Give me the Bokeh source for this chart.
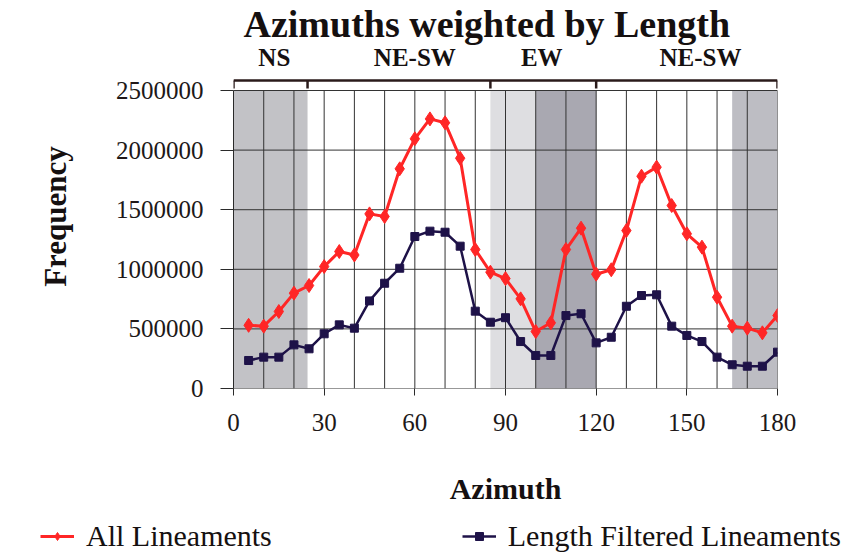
from bokeh.plotting import figure
from bokeh.layouts import column
from bokeh.models import Range1d, FixedTicker, Legend, LegendItem
from bokeh.core.properties import value
from bokeh.embed import file_html
from bokeh.resources import INLINE

# ---------------- data ----------------
azimuth = [5, 10, 15, 20, 25, 30, 35, 40, 45, 50, 55, 60, 65, 70, 75, 80, 85, 90,
           95, 100, 105, 110, 115, 120, 125, 130, 135, 140, 145, 150, 155, 160, 165, 170, 175, 180]
all_lineaments = [530000, 523000, 646000, 800000, 864000, 1023000, 1149000, 1120000, 1465000,
                  1443000, 1843000, 2095000, 2262000, 2229000, 1932000, 1166000, 976000, 922000,
                  752000, 478000, 551000, 1166000, 1345000, 959000, 996000, 1325000, 1781000,
                  1857000, 1535000, 1298000, 1186000, 766000, 523000, 506000, 467000, 612000]
length_filtered = [235000, 263000, 263000, 366000, 333000, 459000, 534000, 506000, 735000,
                   883000, 1009000, 1275000, 1320000, 1311000, 1194000, 649000, 556000, 594000,
                   394000, 277000, 277000, 612000, 627000, 383000, 430000, 690000, 780000,
                   786000, 523000, 445000, 394000, 263000, 199000, 187000, 187000, 305000]

x_ticks = [0, 30, 60, 90, 120, 150, 180]
x_grid = [0, 10, 20, 30, 40, 50, 60, 70, 80, 90, 100, 110, 120, 130, 140, 150, 160, 170, 180]
y_ticks = [0, 500000, 1000000, 1500000, 2000000, 2500000]
y_tick_labels = ["0", "500000", "1000000", "1500000", "2000000", "2500000"]

# shaded orientation bands
shade_left = [0, 85, 100, 165]
shade_right = [24.5, 100, 120, 180]
shade_colors = ["#c2c2c6", "#dedee1", "#a9a8b1", "#bdbdc3"]

# orientation classes (bracket above plot)
band_edges = [0, 24.5, 85, 120, 180]
band_names = ["NS", "NE-SW", "EW", "NE-SW"]
band_label_x = [13.5, 60, 102, 154.5]

series_names = ["All Lineaments", "Length Filtered Lineaments"]

FONT = "Liberation Serif"
RED = "#ff2626"
NAVY = "#1e1248"
Y_MAX = 2886000
Y_TOP = y_ticks[-1]
BRACKET_Y = 2584000
BRACKET_TICK_Y = 2517000
BAND_LABEL_Y = 2777000

p = figure(width=866, height=515, output_backend="svg", toolbar_location=None,
           x_range=Range1d(x_ticks[0], x_ticks[-1]), y_range=Range1d(0, Y_MAX),
           min_border_left=233, min_border_right=89, min_border_top=44, min_border_bottom=127,
           title="Azimuths weighted by Length")
p.outline_line_color = None
p.background_fill_color = "white"
p.border_fill_color = "white"
p.xgrid.visible = False
p.ygrid.visible = False

p.title.text_font = FONT
p.title.text_font_size = "38px"
p.title.text_font_style = "bold"
p.title.text_color = "#151010"
p.title.align = "left"
p.title.offset = 10
p.title.standoff = 0

# shading
p.quad(left=shade_left, right=shade_right, bottom=0, top=Y_TOP,
       fill_color=shade_colors, line_color=None)

# grid lines
p.segment(x0=x_grid, y0=0, x1=x_grid, y1=Y_TOP, line_color="#333333", line_width=1)
p.segment(x0=x_ticks[0], y0=y_ticks, x1=x_ticks[-1], y1=y_ticks, line_color="#333333", line_width=1)

# bracket
p.segment(x0=band_edges[0], y0=BRACKET_Y, x1=band_edges[-1], y1=BRACKET_Y,
          line_color="#2a1a1a", line_width=2.5)
p.segment(x0=band_edges, y0=BRACKET_TICK_Y, x1=band_edges, y1=BRACKET_Y,
          line_color="#2a1a1a", line_width=2.5)
p.text(x=band_label_x, y=BAND_LABEL_Y, text=band_names, text_font=value(FONT),
       text_font_style="bold", text_font_size="25px", text_align="center",
       text_baseline="middle", text_color="#151010")

# series
p.line(azimuth, all_lineaments, line_color=RED, line_width=3)
p.scatter(azimuth, all_lineaments, marker="diamond", size=14, fill_color=RED, line_color=RED)
p.line(azimuth, length_filtered, line_color=NAVY, line_width=2.5)
p.scatter(azimuth, length_filtered, marker="square", size=8, fill_color=NAVY, line_color=NAVY)

# axes
p.xaxis.ticker = FixedTicker(ticks=x_ticks)
p.xaxis.axis_line_color = None
p.xaxis.major_tick_out = 7
p.xaxis.major_tick_in = 0
p.xaxis.minor_tick_line_color = None
p.xaxis.major_tick_line_color = "#2a2a2a"
p.xaxis.major_label_standoff = 18
p.xaxis.major_label_text_font = FONT
p.xaxis.major_label_text_font_size = "25px"
p.xaxis.major_label_text_color = "#201818"
p.xaxis.axis_label = "Azimuth"
p.xaxis.axis_label_text_font = FONT
p.xaxis.axis_label_text_font_size = "30px"
p.xaxis.axis_label_text_font_style = "bold"
p.xaxis.axis_label_text_color = "#151010"
p.xaxis.axis_label_standoff = 38

p.yaxis.ticker = FixedTicker(ticks=y_ticks)
p.yaxis.major_label_overrides = dict(zip(y_ticks, y_tick_labels))
p.yaxis.bounds = (y_ticks[0], y_ticks[-1])
p.yaxis.axis_line_color = "#2a2a2a"
p.yaxis.major_tick_out = 13
p.yaxis.major_tick_in = 0
p.yaxis.minor_tick_line_color = None
p.yaxis.major_tick_line_color = "#2a2a2a"
p.yaxis.major_label_standoff = 17
p.yaxis.major_label_text_font = FONT
p.yaxis.major_label_text_font_size = "25px"
p.yaxis.major_label_text_color = "#201818"
p.yaxis.axis_label = "Frequency"
p.yaxis.axis_label_text_font = FONT
p.yaxis.axis_label_text_font_size = "31px"
p.yaxis.axis_label_text_font_style = "bold"
p.yaxis.axis_label_text_color = "#151010"
p.yaxis.axis_label_standoff = 40

# legend strip (own small figure spanning the full width; its ranges keep the
# series themselves out of view so only the legend shows)
lg = figure(width=866, height=38, output_backend="svg", toolbar_location=None,
            x_range=Range1d(-2, -1), y_range=Range1d(-2, -1), min_border=0,
            x_axis_location=None, y_axis_location=None)
lg.frame_align = False
lg.outline_line_color = None
lg.grid.visible = False
k1 = lg.line(azimuth, all_lineaments, line_color=RED, line_width=3)
k1m = lg.scatter(azimuth, all_lineaments, marker="diamond", size=14, fill_color=RED, line_color=RED)
k2 = lg.line(azimuth, length_filtered, line_color=NAVY, line_width=2.5)
k2m = lg.scatter(azimuth, length_filtered, marker="square", size=8, fill_color=NAVY, line_color=NAVY)
legend = Legend(items=[LegendItem(label=series_names[0], renderers=[k1, k1m]),
                       LegendItem(label=series_names[1], renderers=[k2, k2m])],
                orientation="horizontal", location=(40, 0),
                label_text_font=FONT, label_text_font_size="30px", label_text_color="#151010",
                glyph_width=34, glyph_height=20, label_standoff=12, spacing=190,
                padding=0, margin=0, border_line_color=None, background_fill_alpha=0)
lg.add_layout(legend)

open("out.html", "w").write(file_html(column(p, lg, spacing=0), INLINE))
